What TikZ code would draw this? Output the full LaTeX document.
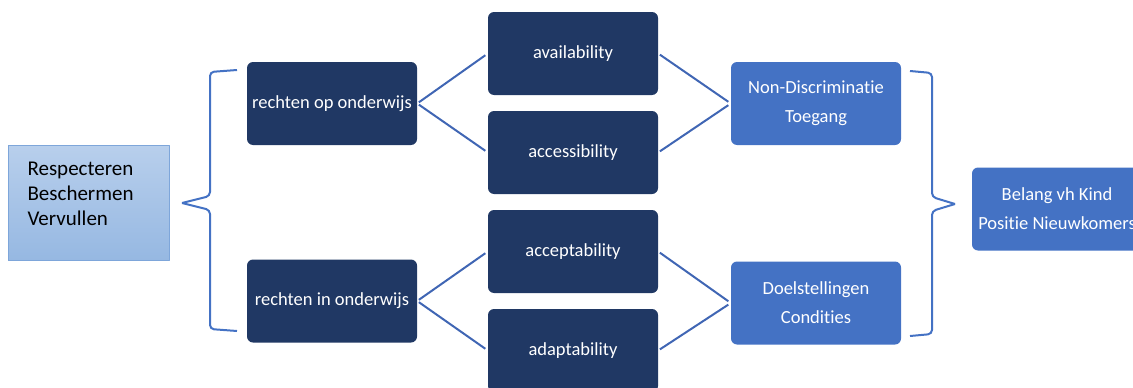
\documentclass[tikz,border=0pt]{standalone}
\usepackage{fontspec}
\setmainfont[RawFeature=-liga]{Carlito}

\begin{document}
\begin{tikzpicture}[x=1pt, y=-1pt, line join=round,
    darkbox/.style={fill=navy, draw=none, rounded corners=6pt,
        minimum width=170pt, minimum height=83pt, text=white,
        font=\fontsize{18.5}{29}\selectfont, align=center},
    midbox/.style={darkbox, fill=midblue},
    link/.style={draw=linkblue, line width=2pt, shorten >=3pt, shorten <=2pt},
    bracket/.style={draw=midblue, line width=2pt, rounded corners=4pt}]

    % --- Colors ---
    \definecolor{navy}{RGB}{32, 56, 100}
    \definecolor{midblue}{RGB}{68, 114, 196}
    \definecolor{linkblue}{RGB}{64, 102, 180}
    \definecolor{lighttop}{RGB}{184, 207, 236}
    \definecolor{lightbot}{RGB}{150, 184, 226}
    \definecolor{lightedge}{RGB}{126, 166, 218}

    \useasboundingbox (0,0) rectangle (1133,388);

    % --- Left box ---
    \node[draw=lightedge, thin, top color=lighttop, bottom color=lightbot,
        minimum width=161pt, minimum height=115pt] (plichten) at (88.5,202.5) {};
    \node[anchor=north west, align=left, font=\fontsize{21}{25}\selectfont]
        (plichtentxt) at (24,158) {Respecteren\\Beschermen\\Vervullen};

    % --- Middle columns ---
    \node[darkbox] (rop) at (332,103.5) {rechten op onderwijs};
    \node[darkbox] (rin) at (332,301) {rechten in onderwijs};

    \node[darkbox] (avail)  at (573,53.5)  {availability};
    \node[darkbox] (access) at (573,152.5) {accessibility};
    \node[darkbox] (accept) at (573,251.5) {acceptability};
    \node[darkbox] (adapt)  at (573,350.5) {adaptability};

    % --- Right columns ---
    \node[midbox] (nondisc) at (816,103.5) {Non-Discriminatie\\Toegang};
    \node[midbox] (doel)    at (816,303)   {Doelstellingen\\Condities};
    \node[midbox] (belang)  at (1057,209)  {Belang vh Kind\\Positie Nieuwkomers};

    % --- Connectors ---
    \foreach \u/\v in {rop/avail, rop/access, rin/accept, rin/adapt,
        avail/nondisc, access/nondisc, accept/doel, adapt/doel} {
        \draw[link] (\u.east) -- (\v.west);
    }

    % --- Brackets ---
    \coordinate (lb top) at (237,70);
    \coordinate (lb tip) at (182,203);
    \coordinate (lb bot) at (237,331);
    \draw[bracket] (lb top) -- (210,72) -- (210,196) -- (lb tip);
    \draw[bracket] (lb tip) -- (210,210) -- (210,329) -- (lb bot);

    \coordinate (rb top) at (910,71);
    \coordinate (rb tip) at (955,204);
    \coordinate (rb bot) at (910,336);
    \draw[bracket] (rb top) -- (932,73) -- (932,197) -- (rb tip);
    \draw[bracket] (rb tip) -- (932,211) -- (932,334) -- (rb bot);

\end{tikzpicture}
\end{document}
